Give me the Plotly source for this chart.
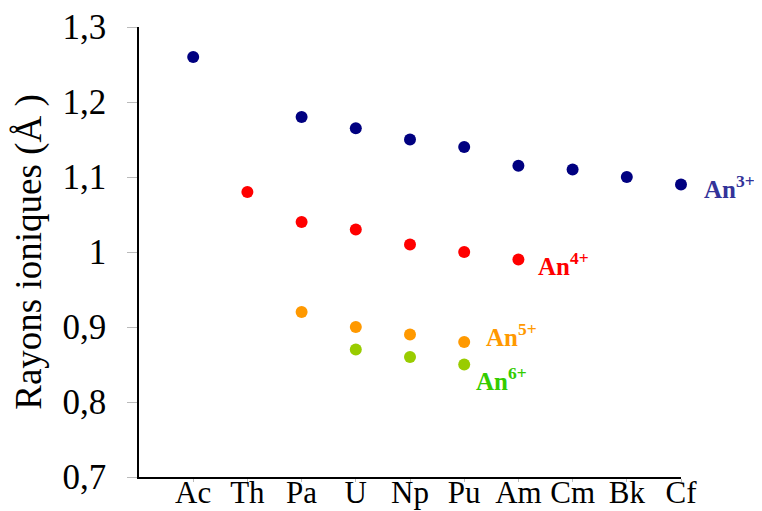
import plotly.graph_objects as go

elements = ["Ac", "Th", "Pa", "U", "Np", "Pu", "Am", "Cm", "Bk", "Cf"]

an3_el = ["Ac", "Pa", "U", "Np", "Pu", "Am", "Cm", "Bk", "Cf"]
an3_val = [1.26, 1.18, 1.165, 1.15, 1.14, 1.115, 1.11, 1.10, 1.09]

an4_el = ["Th", "Pa", "U", "Np", "Pu", "Am"]
an4_val = [1.08, 1.04, 1.03, 1.01, 1.00, 0.99]

an5_el = ["Pa", "U", "Np", "Pu"]
an5_val = [0.92, 0.90, 0.89, 0.88]

an6_el = ["U", "Np", "Pu"]
an6_val = [0.87, 0.86, 0.85]

ytick_vals = [0.7, 0.8, 0.9, 1.0, 1.1, 1.2, 1.3]
ytick_text = ["0,7", "0,8", "0,9", "1", "1,1", "1,2", "1,3"]

series = [
    (an3_el, an3_val, "#000080", "An<sup>3+</sup>", "#333399"),
    (an4_el, an4_val, "#ff0000", "An<sup>4+</sup>", "#ff0000"),
    (an5_el, an5_val, "#ff9900", "An<sup>5+</sup>", "#ff9900"),
    (an6_el, an6_val, "#99cc00", "An<sup>6+</sup>", "#33cc00"),
]

idx = {e: i for i, e in enumerate(elements)}

fig = go.Figure()
for els, vals, col, name, lcol in series:
    fig.add_trace(go.Scatter(
        x=[idx[e] for e in els], y=vals, mode="markers",
        marker=dict(color=col, size=12, line=dict(width=0)),
        name=name, showlegend=False, cliponaxis=False,
    ))

# labels (offsets in pixels)
label_pos = [
    (idx[an3_el[-1]], an3_val[-1], 21, -2),
    (idx[an4_el[-1]], an4_val[-1], 18, -4),
    (idx[an5_el[-1]], an5_val[-1], 20, 7),
    (idx[an6_el[-1]], an6_val[-1], 10, -14),
]
for (x, y, xs, ys), (_, _, _, name, lcol) in zip(label_pos, series):
    fig.add_annotation(
        x=x, y=y, text="<b>" + name + "</b>", showarrow=False,
        xanchor="left", yanchor="middle", xshift=xs, yshift=ys,
        font=dict(family="Liberation Serif", size=25, color=lcol),
    )

fig.update_layout(
    width=754, height=503,
    margin=dict(l=131, r=81, t=19, b=34),
    plot_bgcolor="white", paper_bgcolor="white",
    font=dict(family="Liberation Serif", size=34, color="black"),
)
fig.update_xaxes(
    range=[-1, 9], tickvals=list(range(len(elements))), ticktext=elements,
    showgrid=False, zeroline=False, showline=True, linecolor="black", linewidth=1.5,
    ticks="outside", ticklen=3, tickcolor="#bbbbbb", tickfont=dict(size=31),
    ticklabelstandoff=-16, automargin=False,
)
fig.update_yaxes(
    range=[0.7, 1.3], tickvals=ytick_vals, ticktext=ytick_text,
    showgrid=False, zeroline=False, showline=True, linecolor="black", linewidth=1.5,
    ticks="outside", ticklen=10, tickcolor="#bbbbbb", tickfont=dict(size=35),
    ticklabelstandoff=14, automargin=False,
    title=dict(text="Rayons ioniques (Å )", font=dict(size=37), standoff=12),
)

fig.write_html("out.html")
